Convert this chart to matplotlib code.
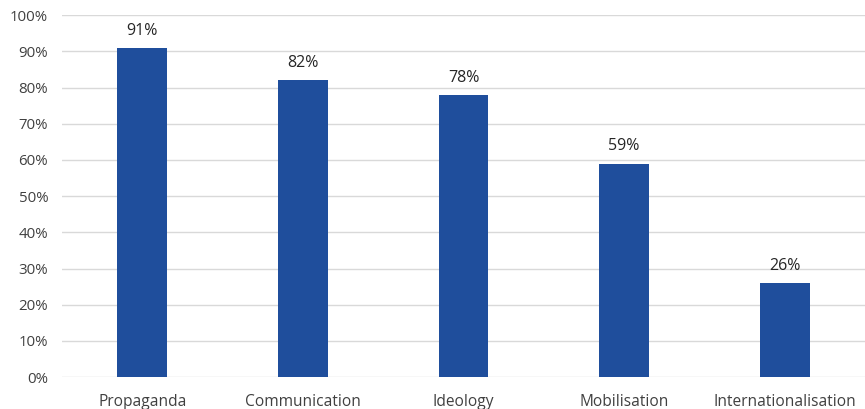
import matplotlib.pyplot as plt
from matplotlib.ticker import FuncFormatter

categories = ["Propaganda", "Communication", "Ideology", "Mobilisation", "Internationalisation"]
values = [91, 82, 78, 59, 26]
yticks = [0, 10, 20, 30, 40, 50, 60, 70, 80, 90, 100]

plt.rcParams['font.family'] = ['Open Sans', 'DejaVu Sans']

fig = plt.figure(figsize=(8.65, 4.09), dpi=100)
ax = fig.add_axes([0.0717, 0.078, 0.9283, 0.885])

x = range(len(categories))
bars = ax.bar(x, values, width=0.31, color="#1f4e9c", zorder=3)

for b, v in zip(bars, values):
    ax.text(b.get_x() + b.get_width() / 2, v + 2.5, f"{v}%", ha="center", va="bottom",
            fontsize=11.5, color="#262626")

ax.set_xlim(-0.5, len(categories) - 0.5)
ax.set_ylim(0, 100)
ax.set_yticks(yticks)
ax.yaxis.set_major_formatter(FuncFormatter(lambda v, p: f"{int(v)}%"))
ax.set_xticks(list(x))
ax.set_xticklabels(categories)
ax.tick_params(axis="both", length=0, colors="#404040")
ax.tick_params(axis="x", pad=12, labelsize=11.2)
ax.tick_params(axis="y", pad=10, labelsize=10.8)
ax.grid(axis="y", color="#d9d9d9", linewidth=1, zorder=0)
for s in ax.spines.values():
    s.set_visible(False)

fig.savefig("out.png", dpi=100)
